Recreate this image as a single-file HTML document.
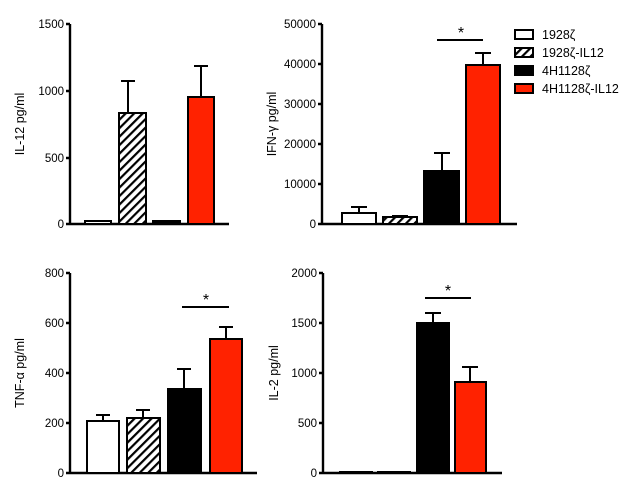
<!DOCTYPE html>
<html><head><meta charset="utf-8"><style>body{margin:0;background:#fff}svg{display:block}text{font-family:"Liberation Sans",Arial,sans-serif;fill:#000}</style></head><body>
<svg width="630" height="484" viewBox="0 0 630 484" xmlns="http://www.w3.org/2000/svg">
<defs><pattern id="h" patternUnits="userSpaceOnUse" width="6" height="6" patternTransform="rotate(45)"><rect width="6" height="6" fill="#fff"/><rect width="2.2" height="6" fill="#000"/></pattern></defs>
<g stroke="#000" stroke-width="2.4" fill="none">
<path d="M70 24V224M66 224H229M66 24H70M66 91H70M66 158H70"/>
<path d="M322 24V224M318 224H517M318 24H322M318 64H322M318 104H322M318 144H322M318 184H322"/>
<path d="M70 273V473M66 473H257M66 273H70M66 323H70M66 373H70M66 423H70"/>
<path d="M323 273V473M319 473H502M319 273H323M319 323H323M319 373H323M319 423H323"/>
</g>
<g font-size="11.5" text-anchor="end">
<text x="64" y="28">1500</text><text x="64" y="95">1000</text><text x="64" y="162">500</text><text x="64" y="228">0</text>
<text x="316" y="28">50000</text><text x="316" y="68">40000</text><text x="316" y="108">30000</text><text x="316" y="148">20000</text><text x="316" y="188">10000</text><text x="316" y="228">0</text>
<text x="64" y="277">800</text><text x="64" y="327">600</text><text x="64" y="377">400</text><text x="64" y="427">200</text><text x="64" y="477">0</text>
<text x="317" y="277">2000</text><text x="317" y="327">1500</text><text x="317" y="377">1000</text><text x="317" y="427">500</text><text x="317" y="477">0</text>
</g>
<g font-size="12.5" text-anchor="middle">
<text transform="translate(24,124) rotate(-90)">IL-12 pg/ml</text>
<text transform="translate(276,124) rotate(-90)">IFN-γ pg/ml</text>
<text transform="translate(24,373) rotate(-90)">TNF-α pg/ml</text>
<text transform="translate(278,373) rotate(-90)">IL-2 pg/ml</text>
</g>
<g stroke="#000" stroke-width="2">
<path d="M128 112V81M121 81H135M201 97V66M194 66H208" fill="none"/>
<rect x="85" y="221" width="26" height="3" fill="#fff"/>
<rect x="119" y="113" width="27" height="111" fill="url(#h)"/>
<rect x="153" y="221" width="27" height="3" fill="#000"/>
<rect x="188" y="97" width="26" height="127" fill="#ff2200"/>
<path d="M359 213V207M351 207H367M400 217V216M392 216H408M442 171V153M434 153H450M483 65V53M475 53H491M437 40H483" fill="none"/>
<rect x="342" y="213" width="34" height="11" fill="#fff"/>
<rect x="383" y="217" width="34" height="7" fill="url(#h)"/>
<rect x="424" y="171" width="35" height="53" fill="#000"/>
<rect x="466" y="65" width="34" height="159" fill="#ff2200"/>
<path d="M103 420V415M96 415H110M143 417V410M136 410H150M184 389V369M177 369H191M226 339V327M219 327H233M182 307H229" fill="none"/>
<rect x="87" y="421" width="32" height="52" fill="#fff"/>
<rect x="127" y="418" width="33" height="55" fill="url(#h)"/>
<rect x="168" y="389" width="33" height="84" fill="#000"/>
<rect x="210" y="339" width="32" height="134" fill="#ff2200"/>
<path d="M433 323V313M425 313H441M470 382V367M462 367H478M425 298H471" fill="none"/>
<rect x="340" y="472" width="32" height="1" fill="#fff"/>
<rect x="378" y="472" width="32" height="1" fill="#fff"/>
<rect x="417" y="323" width="32" height="150" fill="#000"/>
<rect x="455" y="382" width="31" height="91" fill="#ff2200"/>
<rect x="515" y="30" width="18" height="9" fill="#fff"/>
<rect x="515" y="48" width="18" height="9" fill="url(#h)"/>
<rect x="515" y="66" width="18" height="9" fill="#000"/>
<rect x="515" y="84" width="18" height="9" fill="#ff2200"/>
</g>
<g font-size="16" text-anchor="middle"><text x="461" y="38">*</text><text x="206" y="305">*</text><text x="448" y="296">*</text></g>
<g font-size="12.5"><text x="542" y="39">1928ζ</text><text x="542" y="57">1928ζ-IL12</text><text x="542" y="75">4H1128ζ</text><text x="542" y="93">4H1128ζ-IL12</text></g>
</svg>
</body></html>
